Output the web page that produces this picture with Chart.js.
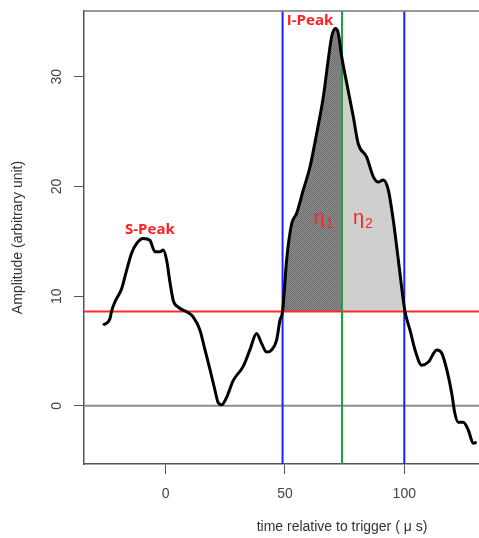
<!DOCTYPE html>
<html>
<head>
<meta charset="utf-8">
<script src="https://cdn.jsdelivr.net/npm/chart.js@4/dist/chart.umd.min.js"></script>
<style>
  html, body { margin: 0; padding: 0; background: #fff; }
  #wrap { width: 479px; height: 538px; position: relative; }
</style>
</head>
<body>
<div id="wrap"><canvas id="c"></canvas></div>
<script>
// ---- data ----
const times = [-26.2, -23.3, -22.6, -21.2, -18.4, -16.3, -14.3, -12.2, -9.4, -6.6, -4.5, -2.4, -1.0, 0.4, 1.8, 3.2, 5.3, 8.8, 11.6, 14.4, 16.5, 18.6, 20.7, 22.0, 23.5, 25.6, 28.3, 32.5, 35.3, 38.1, 40.2, 42.3, 44.4, 46.5, 47.9, 49.0, 50.7, 52.8, 54.9, 57.7, 60.5, 63.3, 66.1, 68.1, 69.6, 71.2, 72.3, 73.8, 75.9, 78.6, 80.7, 84.2, 87.0, 89.1, 91.2, 93.3, 95.4, 97.5, 99.6, 100.3, 102.4, 104.5, 107.3, 110.1, 113.6, 115.7, 117.8, 119.9, 121.2, 122.6, 124.7, 126.8, 128.9, 130.3];
const amplitude = [7.36, 7.97, 8.67, 9.5, 10.7, 12.4, 13.9, 14.8, 15.27, 15.1, 14.05, 14.05, 14.2, 13.3, 11.3, 9.6, 9.0, 8.58, 8.1, 6.9, 5.1, 3.3, 1.4, 0.3, 0.1, 0.8, 2.3, 3.6, 5.1, 6.6, 5.7, 4.9, 5.1, 6.0, 7.8, 8.6, 13.3, 16.6, 17.55, 19.7, 21.8, 24.85, 28.2, 31.5, 33.7, 34.4, 34.0, 31.8, 29.4, 26.4, 23.9, 22.7, 20.9, 20.4, 20.6, 19.7, 16.9, 13.3, 9.6, 8.58, 6.9, 5.1, 3.7, 4.0, 5.1, 4.8, 3.3, 1.1, -0.7, -1.5, -1.5, -2.2, -3.4, -3.3];
const threshold = 8.6;           // red horizontal line
const zeroLevel = 0;             // grey baseline
const boundTimes = [49.0, 100.0]; // blue vertical lines
const peakTime = 73.9;           // green vertical line
const xTicks = [0, 50, 100];
const yTicks = [0, 10, 20, 30];
const xRange = [-34.2, 131.3];
const yRange = [-5.3, 36.0];
const labels = { sPeak: 'S-Peak', iPeak: 'I-Peak', eta: 'η', xTitle: 'time relative to trigger ( μ s)', yTitle: 'Amplitude (arbitrary unit)' };

// ---- helpers ----
function checker(c1, c2) {
  const cv = document.createElement('canvas');
  cv.width = 2; cv.height = 2;
  const g = cv.getContext('2d');
  g.fillStyle = c1; g.fillRect(0, 0, 2, 2);
  g.fillStyle = c2; g.fillRect(0, 0, 1, 1); g.fillRect(1, 1, 1, 1);
  return g.createPattern(cv, 'repeat');
}

const points = times.map((t, i) => ({ x: t, y: amplitude[i] }));

const annot = {
  id: 'annot',
  beforeDatasetsDraw(chart) {
    const { ctx, chartArea: a, scales: { x, y } } = chart;
    const meta = chart.getDatasetMeta(0);
    const line = meta.dataset;
    const yT = y.getPixelForValue(threshold);
    const xL = x.getPixelForValue(boundTimes[0]);
    const xP = x.getPixelForValue(peakTime);
    const xR = x.getPixelForValue(boundTimes[1]);
    const dark = checker('#8c8c8c', '#6e6e6e');
    const light = checker('#d8d8d8', '#c6c6c6');
    const regions = [[xL, xP, dark], [xP, xR, light]];
    const pts = meta.data;
    for (const [x1, x2, fill] of regions) {
      ctx.save();
      ctx.beginPath();
      ctx.rect(x1, a.top, x2 - x1, yT - a.top);
      ctx.clip();
      ctx.beginPath();
      let ok = false;
      try {
        if (line.updateControlPoints) line.updateControlPoints(a, 'x');
        line.path(ctx);
        ok = true;
      } catch (e) { ok = false; }
      if (!ok) {
        ctx.beginPath();
        pts.forEach((p, i) => i ? ctx.lineTo(p.x, p.y) : ctx.moveTo(p.x, p.y));
      }
      ctx.lineTo(pts[pts.length - 1].x, a.bottom);
      ctx.lineTo(pts[0].x, a.bottom);
      ctx.closePath();
      ctx.fillStyle = fill;
      ctx.fill();
      ctx.restore();
    }
    ctx.save();
    // zero line
    ctx.strokeStyle = '#8c8c8c'; ctx.lineWidth = 2;
    const y0 = y.getPixelForValue(zeroLevel);
    ctx.beginPath(); ctx.moveTo(a.left, y0); ctx.lineTo(a.right, y0); ctx.stroke();
    // threshold
    ctx.strokeStyle = '#ff2a2a'; ctx.lineWidth = 2;
    ctx.beginPath(); ctx.moveTo(a.left, yT); ctx.lineTo(a.right, yT); ctx.stroke();
    // verticals
    ctx.strokeStyle = '#1f1fff'; ctx.lineWidth = 2;
    for (const t of boundTimes) {
      const px = x.getPixelForValue(t);
      ctx.beginPath(); ctx.moveTo(px, a.top); ctx.lineTo(px, a.bottom); ctx.stroke();
    }
    ctx.strokeStyle = '#22a03a';
    ctx.beginPath(); ctx.moveTo(xP, a.top); ctx.lineTo(xP, a.bottom); ctx.stroke();
    // top border
    ctx.strokeStyle = '#777'; ctx.lineWidth = 1.5;
    ctx.beginPath(); ctx.moveTo(a.left, a.top); ctx.lineTo(a.right, a.top); ctx.stroke();
    ctx.restore();
  },
  afterDatasetsDraw(chart) {
    const { ctx, scales: { x, y } } = chart;
    ctx.save();
    ctx.fillStyle = '#ff2020';
    ctx.textAlign = 'center';
    ctx.textBaseline = 'middle';
    ctx.font = 'bold 15px "Open Sans", "DejaVu Sans", sans-serif';
    ctx.fillText(labels.sPeak, x.getPixelForValue(-6.6), y.getPixelForValue(16.1));
    ctx.fillText(labels.iPeak, x.getPixelForValue(60.5), y.getPixelForValue(35.1));
    // eta labels
    const drawEta = (t, v, sub) => {
      const px = x.getPixelForValue(t), py = y.getPixelForValue(v);
      ctx.textAlign = 'left';
      ctx.textBaseline = 'alphabetic';
      ctx.font = '20px "Liberation Sans", Arial, sans-serif';
      ctx.fillText(labels.eta, px, py);
      const w = ctx.measureText(labels.eta).width;
      ctx.font = '14px "Liberation Sans", Arial, sans-serif';
      ctx.fillText(sub, px + w + 1, py + 4);
    };
    drawEta(62.0, 16.6, '1');
    drawEta(78.5, 16.6, '2');
    // axis titles
    ctx.fillStyle = '#333';
    ctx.font = '14px "Liberation Sans", Arial, sans-serif';
    ctx.textAlign = 'center';
    ctx.textBaseline = 'middle';
    ctx.fillText(labels.xTitle, 342, 527);
    ctx.translate(18, (chart.chartArea.top + chart.chartArea.bottom) / 2);
    ctx.rotate(-Math.PI / 2);
    ctx.fillText(labels.yTitle, 0, 0);
    ctx.restore();
  }
};

new Chart(document.getElementById('c'), {
  type: 'scatter',
  data: {
    datasets: [{
      data: points,
      showLine: true,
      borderColor: '#000',
      borderWidth: 3,
      pointRadius: 0,
      cubicInterpolationMode: 'monotone',
      fill: false
    }]
  },
  options: {
    responsive: true,
    maintainAspectRatio: false,
    animation: false,
    layout: { padding: { top: 11, right: 0, left: 0, bottom: 0 } },
    plugins: { legend: { display: false }, tooltip: { enabled: false } },
    scales: {
      x: {
        type: 'linear',
        min: xRange[0], max: xRange[1],
        afterFit: s => { s.height = 74; s.paddingLeft = 0; s.paddingRight = 0; },
        afterBuildTicks: s => { s.ticks = xTicks.map(v => ({ value: v })); },
        ticks: { color: '#444', font: { size: 14, family: '"Liberation Sans", Arial, sans-serif' }, padding: 12, maxRotation: 0, autoSkip: false },
        grid: { drawOnChartArea: false, drawTicks: true, tickLength: 10, color: '#555', lineWidth: 1 },
        border: { display: true, color: '#555', width: 1.5 }
      },
      y: {
        type: 'linear',
        min: yRange[0], max: yRange[1],
        afterFit: s => { s.width = 84; s.paddingTop = 0; s.paddingBottom = 0; },
        afterBuildTicks: s => { s.ticks = yTicks.map(v => ({ value: v })); },
        ticks: { color: '#444', font: { size: 14, family: '"Liberation Sans", Arial, sans-serif' }, padding: 9, minRotation: 90, maxRotation: 90, crossAlign: 'center', autoSkip: false },
        grid: { drawOnChartArea: false, drawTicks: true, tickLength: 10, color: '#555', lineWidth: 1 },
        border: { display: true, color: '#555', width: 1.5 }
      }
    }
  },
  plugins: [annot]
});
</script>
</body>
</html>
